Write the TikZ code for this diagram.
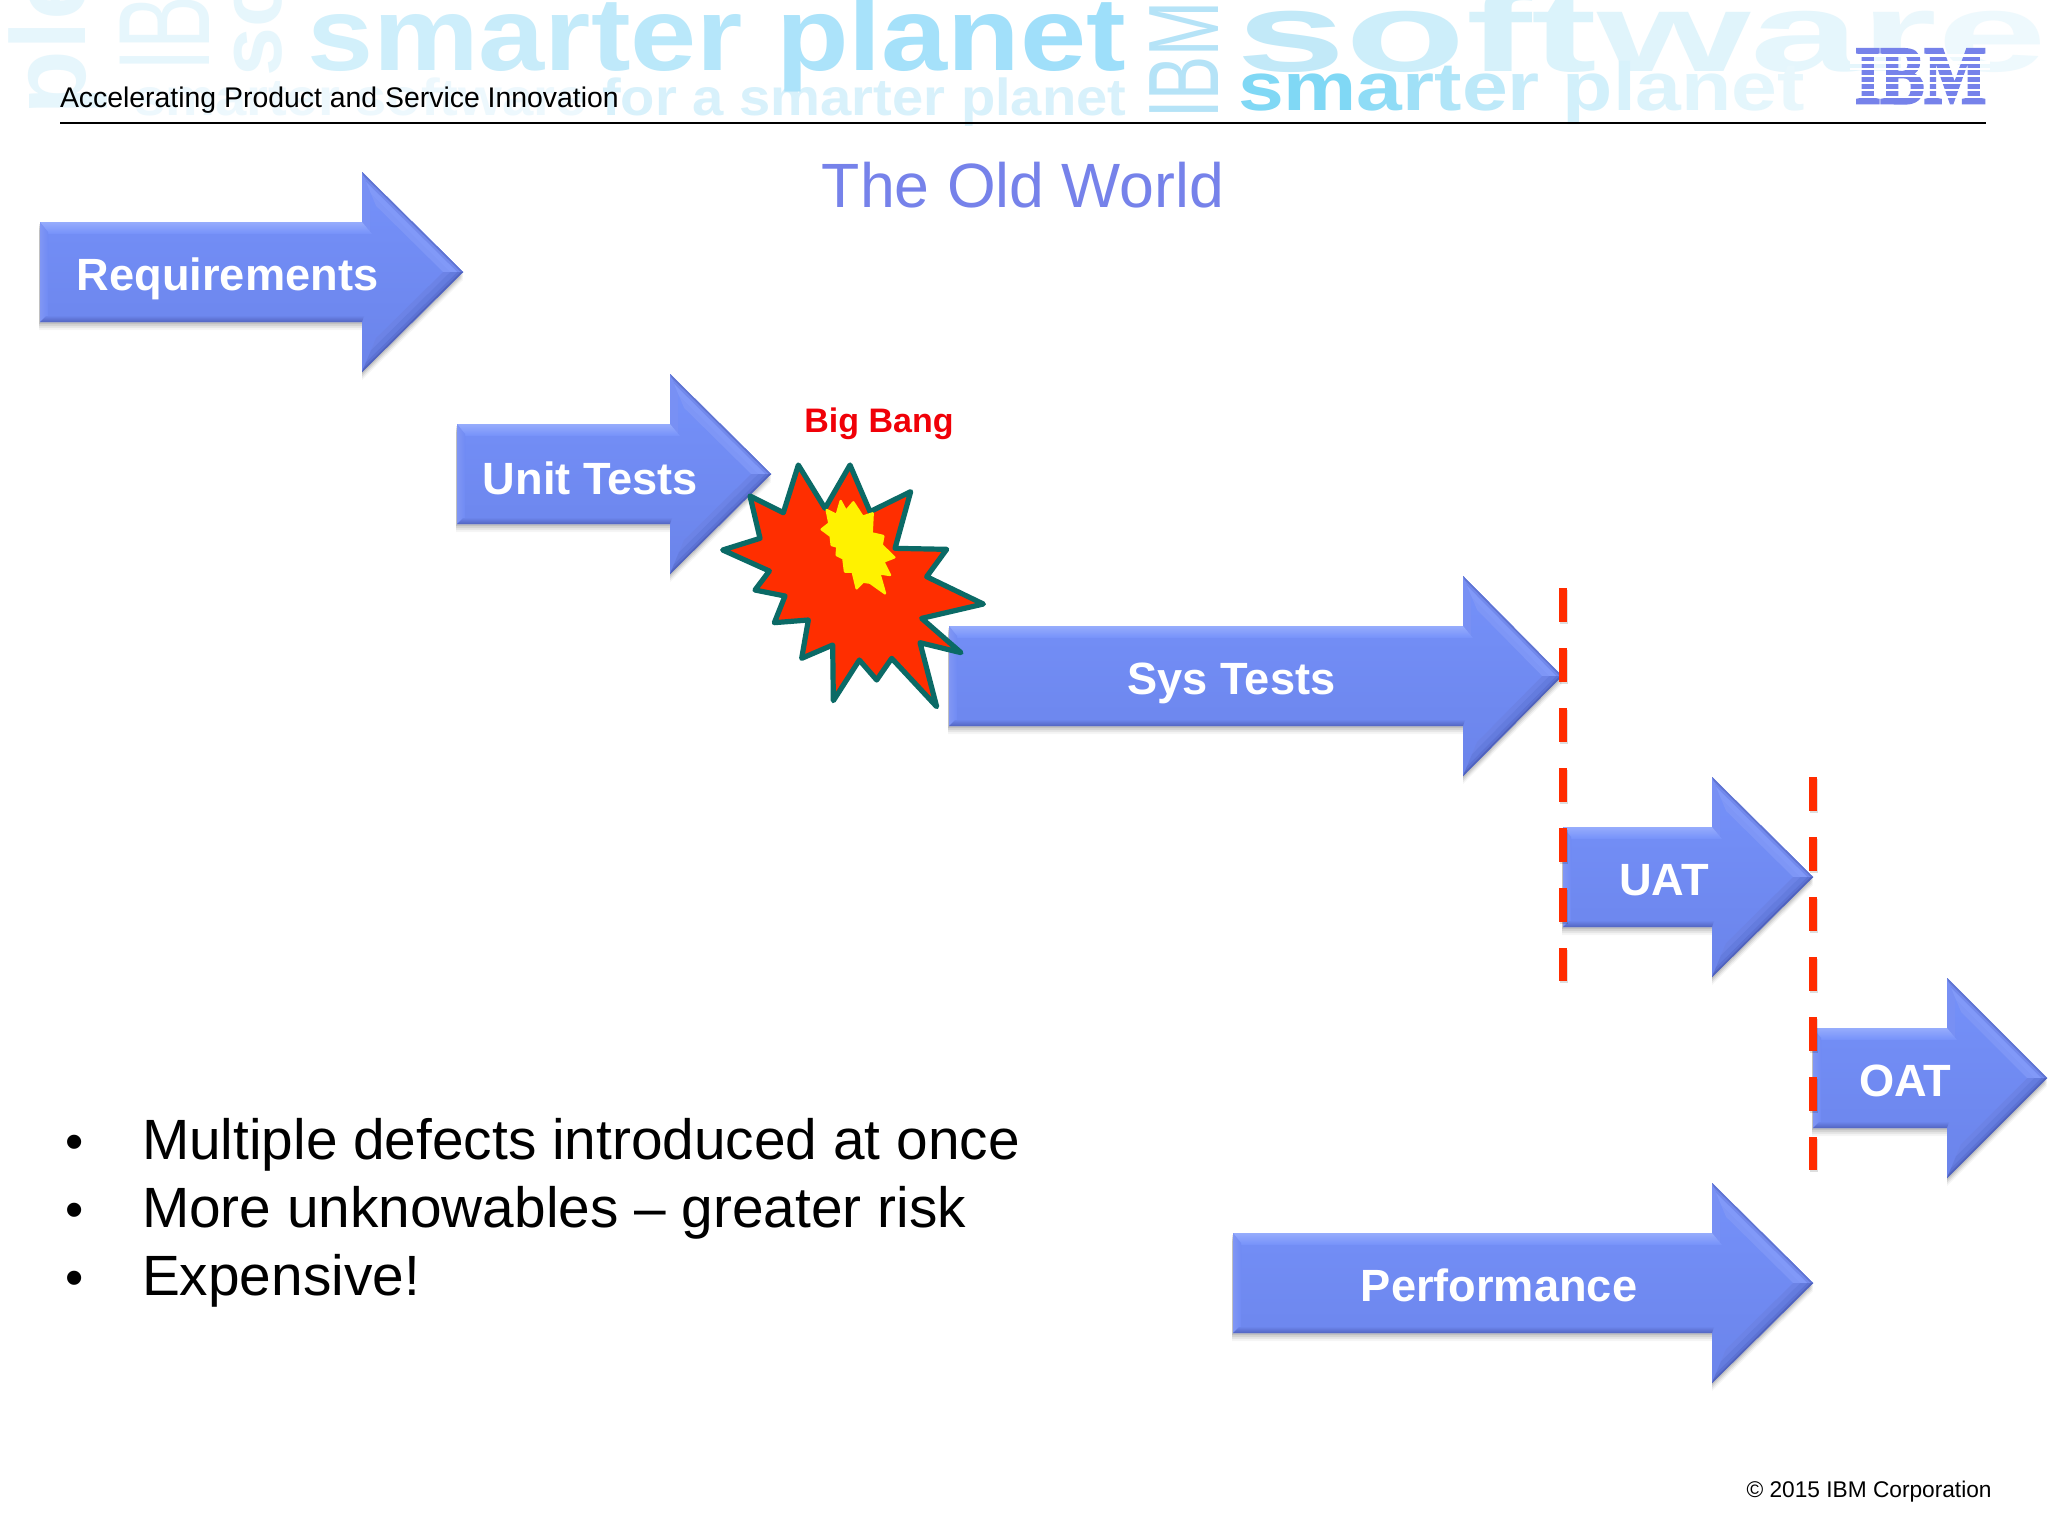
\documentclass[tikz,border=0pt]{standalone}
\usepackage{fontspec}
\setmainfont{Liberation Sans}
\newfontfamily\logofont[FakeBold=3.5]{Liberation Serif Bold}
\newcommand{\pxfont}[1]{\fontsize{#1}{#1}\selectfont}
\newcommand{\cc}[2]{\textcolor[HTML]{#1}{#2}}
\tikzset{
  wm/.style={inner sep=0pt,outer sep=0pt,anchor=base west},
  wmb/.style={wm,font=\bfseries},
  arrowlabel/.style={inner sep=0pt,anchor=base,text=white,font=\bfseries\pxfont{22.6}},
  gatedash/.style={draw=dashred,line width=4.25pt,dash pattern=on 17pt off 13pt},
  gateshadow/.style={draw=black,opacity=.13,line width=4.25pt,dash pattern=on 17pt off 13pt},
  burst/.style={fill=burstred,draw=burstline,line width=2.6pt,line join=round},
  core/.style={fill=yellow,draw=yellow,line width=1.2pt,line join=round},
}
\definecolor{wmA}{HTML}{E6F6FC}
\definecolor{wmB}{HTML}{EDF8FD}
\definecolor{wmC}{HTML}{D8F1FB}
\definecolor{wmD}{HTML}{B5E3F7}
\definecolor{bangred}{HTML}{F00008}
\definecolor{dashred}{HTML}{FF2C00}
\definecolor{burstred}{HTML}{FF2E00}
\definecolor{burstline}{HTML}{0B6A66}
\definecolor{armtop}{HTML}{7591FA}
\definecolor{armbot}{HTML}{6B84EA}
\definecolor{armmid}{HTML}{708BF4}
\definecolor{titleblue}{HTML}{7682EA}
\definecolor{HTMLmid}{HTML}{7890F4}
\definecolor{bevA}{HTML}{96ACFC}
\definecolor{bevB}{HTML}{8096F4}
\definecolor{bevC}{HTML}{5264C0}
% #1 name, #2 left x, #3 head base x, #4 tip x, #5 centre y, #6 label, #7 label x, #8 label baseline
\newcommand{\bevelarrow}[8]{
  \foreach \off/\op in {2/.09,4/.08,6/.06,8/.04}{
    \fill[black,opacity=\op] ({#2-1},{#5-50+\off}) -- ({#3},{#5-50+\off}) -- ({#3},{#5-100+\off}) -- ({#4},{#5+\off}) -- ({#3},{#5+100+\off}) -- ({#3},{#5+50+\off}) -- ({#2-1},{#5+50+\off}) -- cycle;
  }
  \shade[top color=armtop,bottom color=armbot] ({#2},{#5-50}) -- ({#3},{#5-50}) -- ({#3},{#5-100}) -- ({#4},{#5}) -- ({#3},{#5+100}) -- ({#3},{#5+50}) -- ({#2},{#5+50}) -- cycle;
  % head faces
  \fill[HTMLmid] ({#3},{#5-100}) -- ({#3+8},{#5-81}) -- ({#3+8},{#5-40}) -- ({#3},{#5-50}) -- cycle;
  \foreach \t/\col in {14/7E96F6,9/8199F8,4/7289EC,1.5/6074D0}{
    \definecolor{stripcol}{HTML}{\col}
    \fill[stripcol] ({#3},{#5-100}) -- ({#4},{#5}) -- ({#4-1.414*\t},{#5}) -- ({#3+\t},{#5-100+2.414*\t}) -- cycle;
  }
  \foreach \t/\col in {14/6C83E6,9/647CDE,4/5C72D4,1.5/5062BC}{
    \definecolor{stripcol}{HTML}{\col}
    \fill[stripcol] ({#3},{#5+100}) -- ({#4},{#5}) -- ({#4-1.414*\t},{#5}) -- ({#3+\t},{#5+100-2.414*\t}) -- cycle;
  }
  % body faces
  \shade[top color=bevA,bottom color=armtop] ({#2},{#5-50}) -- ({#3},{#5-50}) -- ({#3+10},{#5-38}) -- ({#2+8},{#5-38}) -- cycle;
  \shade[left color=bevB,right color=armmid] ({#2},{#5-50}) -- ({#2+8},{#5-40}) -- ({#2+8},{#5+44}) -- ({#2},{#5+50}) -- cycle;
  \shade[top color=armbot,bottom color=bevC] ({#2},{#5+50}) -- ({#2+6},{#5+44}) -- ({#3+2},{#5+44}) -- ({#3},{#5+50}) -- cycle;
  \node[arrowlabel] (#1) at (#7,#8) {#6};
}
\begin{document}
\begin{tikzpicture}[x=.5pt,y=-.5pt]
\useasboundingbox (0,0) rectangle (2048,1536);
\fill[white] (0,0) rectangle (2048,1536);
% watermark banner
\begin{scope}
\clip (0,0) rectangle (2048,160);
\node[wmb,rotate=90,text=wmA] (wmple) at (85,115) {\pxfont{53}ple};
\node[wm,rotate=90,xscale=.62,text=wmA] (wmibml) at (209,72) {\pxfont{65}IBM};
\node[wmb,rotate=90,text=wmA] (wmso) at (281,76) {\pxfont{44}so};
\node[wmb,xscale=1.08] (wmsub) at (134,115) {\pxfont{26}\color{wmB}smarter software \color{wmC}for a smarter planet};
\node[wmb,xscale=1.143] (wmsp) at (307,71) {\pxfont{52}\cc{D2F0FB}{s}\cc{CDEEFB}{m}\cc{C8ECFA}{a}\cc{C4EBFA}{r}\cc{BFE9FA}{t}\cc{BAE8FA}{e}\cc{B5E6FA}{r} \cc{ACE3FA}{p}\cc{A8E2FA}{l}\cc{A5E1FA}{a}\cc{A2E0FA}{n}\cc{A0DFFA}{e}\cc{9EDFFA}{t}};
\node[wm,rotate=90,xscale=.66,text=wmD] (wmibmr) at (1218,119) {\pxfont{50}IBM};
\node[wmb,xscale=1.76] (wmsw) at (1236,72) {\pxfont{56}\cc{C2E9F8}{s}\cc{CDEEFA}{o}\cc{D6F1FA}{f}\cc{DBF3FB}{t}\cc{E0F4FB}{w}\cc{E5F6FC}{a}\cc{EAF7FC}{r}\cc{EEF9FD}{e}};
\node[wmb,xscale=1.21] (wmsp2) at (1238,111) {\pxfont{34}\cc{80D8F5}{s}\cc{80D8F5}{m}\cc{8FDCF6}{a}\cc{A0E0F7}{r}\cc{B0E5F8}{t}\cc{BDE9F9}{e}\cc{C8ECFA}{r} \cc{D2F0FB}{p}\cc{D8F2FB}{l}\cc{DCF3FB}{a}\cc{E0F5FC}{n}\cc{E4F6FC}{e}\cc{E8F7FC}{t}};
\end{scope}
% header
\node[wm,text=black] (hdr) at (60,107) {\pxfont{14.2}Accelerating Product and Service Innovation};
\coordinate (ruleL) at (60,123);
\coordinate (ruleR) at (1986,123);
\draw[black,line width=1.1pt] (ruleL) -- (ruleR);
% logo
\node[wm,xscale=.8,text=titleblue] (logo) at (1855,103) {\logofont\pxfont{41}IBM};
\foreach \yy in {55.5,62.5,69.3,76.2,83,90,96.8}{
  \fill[white] (1850,\yy-1.2) rectangle (1990,\yy+1.2);
}
% title
\node[inner sep=0pt,anchor=base,text=titleblue] (title) at (1023,207) {\pxfont{31.3}The Old World};
% arrows
\bevelarrow{req}{40}{362}{463}{272}{Requirements}{227.5}{290.5}
\bevelarrow{unit}{457}{670}{771}{474}{Unit Tests}{590.5}{494.5}
\bevelarrow{sys}{949}{1463}{1562}{676}{Sys Tests}{1231.5}{694.5}
\bevelarrow{uat}{1563}{1712}{1813}{877}{UAT}{1664}{895.5}
\bevelarrow{oat}{1813}{1947}{2047}{1078}{OAT}{1905.5}{1096.5}
\bevelarrow{perf}{1233}{1712}{1813}{1283}{Performance}{1499}{1301.5}
% gates
\coordinate (g1a) at (1563,588);
\coordinate (g1b) at (1563,981);
\coordinate (g2a) at (1813,777);
\coordinate (g2b) at (1813,1170);
\draw[gateshadow,transform canvas={xshift=.5pt,yshift=-1pt}] (g1a) -- (g1b);
\draw[gateshadow,transform canvas={xshift=.5pt,yshift=-1pt}] (g2a) -- (g2b);
\draw[gatedash] (g1a) -- (g1b);
\draw[gatedash] (g2a) -- (g2b);
% burst
\begin{scope}[shift={(680,430)},x=.1666667pt,y=-.1666667pt]
\draw[burst] (355,105)--(435,235)--(510,105)--(570,245)--(692,185)--(645,355)--(800,358)--(740,440)--(910,522)--(725,565)--(843,668)--(720,638)--(770,830)--(635,685)--(590,750)--(538,690)--(460,812)--(458,645)--(365,685)--(385,570)--(283,578)--(315,498)--(225,480)--(268,423)--(128,360)--(240,325)--(210,198)--(310,248)--cycle;
\draw[core] (482,213)--(498,243)--(520,217)--(548,260)--(578,250)--(575,310)--(610,318)--(605,345)--(643,382)--(610,395)--(630,435)--(598,430)--(615,490)--(570,458)--(550,455)--(530,475)--(518,425)--(495,425)--(490,385)--(470,375)--(472,350)--(455,345)--(452,318)--(425,298)--(448,280)--(440,240)--(470,255)--cycle;
\end{scope}
\node[inner sep=0pt,anchor=base,text=bangred,font=\bfseries\pxfont{17}] (bang) at (879,432) {Big Bang};
% bullets
\foreach \nm/\yy/\tx in {b1/1159/Multiple defects introduced at once,b2/1227/More unknowables – greater risk,b3/1295/Expensive!}{
  \node[wm,text=black] (\nm) at (142,\yy) {\pxfont{28.4}\tx};
  \node[inner sep=0pt,anchor=base,text=black] (\nm d) at (74.5,\yy) {\pxfont{26}•};
}
\node[inner sep=0pt,anchor=base east,text=black] (copy) at (1992,1497) {\pxfont{11.35}© 2015 IBM Corporation};
\end{tikzpicture}
\end{document}
